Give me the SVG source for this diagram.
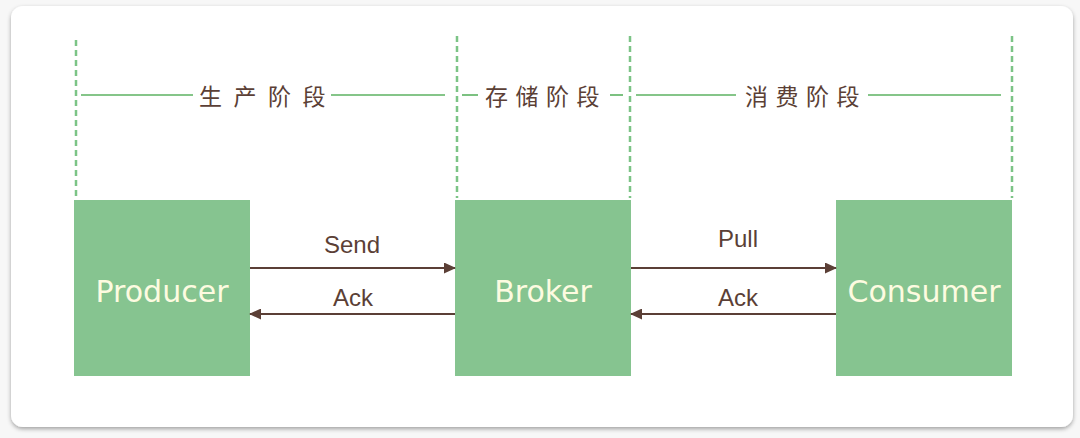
<svg xmlns="http://www.w3.org/2000/svg" width="1080" height="438" viewBox="0 0 1080 438">
<defs>
<filter id="sh" x="-5%" y="-5%" width="110%" height="115%">
<feDropShadow dx="0" dy="2" stdDeviation="2" flood-color="#000" flood-opacity="0.35"/>
</filter>
<marker id="ah" markerWidth="12" markerHeight="11" refX="11" refY="5.5" orient="auto" markerUnits="userSpaceOnUse">
<path d="M0,0 L12,5.5 L0,11 Z" fill="#5b3f36"/>
</marker>
<style>
.dash{stroke:#7cc486;stroke-width:2.5;stroke-dasharray:6,4;fill:none}
.hl{stroke:#5cb262;stroke-width:1.6;fill:none}
.stage{font-family:"Noto Sans CJK SC",sans-serif;font-size:23px;fill:#5b3f36}
.box{fill:#86c490}
.name{font-family:"DejaVu Sans",sans-serif;font-size:30px;fill:#fdfbe0;text-anchor:middle}
.lbl{font-family:"Liberation Sans",sans-serif;font-size:24px;fill:#5b3f36;text-anchor:middle}
.conn{stroke:#5b3f36;stroke-width:1.8;fill:none;marker-end:url(#ah)}
</style>
</defs>
<rect width="1080" height="438" fill="#f7f7f7"/>
<rect x="11" y="6" width="1062" height="421" rx="12" fill="#ffffff" filter="url(#sh)"/>
<g id="stages">
<line class="dash" x1="76" y1="40" x2="76" y2="198"/>
<line class="dash" x1="457" y1="36" x2="457" y2="198"/>
<line class="dash" x1="630" y1="36" x2="630" y2="198"/>
<line class="dash" x1="1012" y1="36" x2="1012" y2="198"/>
<line class="hl" x1="81" y1="95" x2="193" y2="95"/>
<line class="hl" x1="331" y1="95" x2="445" y2="95"/>
<line class="hl" x1="462" y1="95" x2="478" y2="95"/>
<line class="hl" x1="610" y1="95" x2="623" y2="95"/>
<line class="hl" x1="636" y1="95" x2="736" y2="95"/>
<line class="hl" x1="868" y1="95" x2="1001" y2="95"/>
<text class="stage" x="199" y="105" letter-spacing="11.5">生产阶段</text>
<text class="stage" x="485" y="105" letter-spacing="7.5">存储阶段</text>
<text class="stage" x="745" y="105" letter-spacing="7.5">消费阶段</text>
</g>
<g id="producer">
<rect class="box" x="74" y="200" width="176" height="176"/>
<text class="name" x="162" y="302">Producer</text>
</g>
<g id="broker">
<rect class="box" x="455" y="200" width="176" height="176"/>
<text class="name" x="543" y="302">Broker</text>
</g>
<g id="consumer">
<rect class="box" x="836" y="200" width="176" height="176"/>
<text class="name" x="924" y="302">Consumer</text>
</g>
<g id="connectors">
<line class="conn" x1="250" y1="268" x2="455" y2="268"/>
<line class="conn" x1="455" y1="314" x2="250" y2="314"/>
<line class="conn" x1="631" y1="268" x2="836" y2="268"/>
<line class="conn" x1="836" y1="314" x2="631" y2="314"/>
<text class="lbl" x="352" y="253">Send</text>
<text class="lbl" x="353" y="306">Ack</text>
<text class="lbl" x="738" y="247">Pull</text>
<text class="lbl" x="738" y="306">Ack</text>
</g>
</svg>
